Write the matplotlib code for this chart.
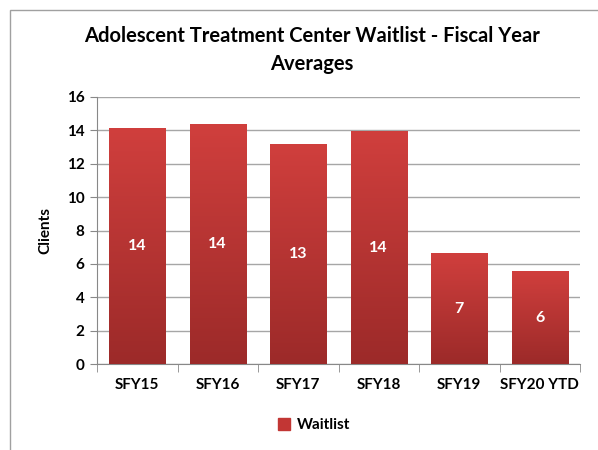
import matplotlib
matplotlib.use("Agg")
import matplotlib.pyplot as plt
import numpy as np
from matplotlib.patches import Rectangle
from matplotlib.colors import LinearSegmentedColormap

categories = ["SFY15", "SFY16", "SFY17", "SFY18", "SFY19", "SFY20 YTD"]
values = [14.14, 14.38, 13.18, 13.96, 6.65, 5.57]
labels = ["14", "14", "13", "14", "7", "6"]
series_name = "Waitlist"
title = "Adolescent Treatment Center Waitlist - Fiscal Year\nAverages"

plt.rcParams['font.family'] = ['Lato', 'DejaVu Sans']
plt.rcParams['font.weight'] = 'bold'

fig = plt.figure(figsize=(5.98, 4.5), dpi=100)
ax = fig.add_axes([97/598, 1-364/450, (580-97)/598, (364-97)/450])

x = np.arange(len(categories))
bars = ax.bar(x, values, width=0.7, color="#C23634", zorder=2, label=series_name)

cmap = LinearSegmentedColormap.from_list("g", ["#9C2A29", "#D03F3D"])
grad = np.linspace(0, 1, 256).reshape(-1, 1)
for b, lab in zip(bars, labels):
    bx, by, bw, bh = b.get_x(), b.get_y(), b.get_width(), b.get_height()
    im = ax.imshow(grad, extent=[bx, bx+bw, by, by+bh], origin="lower",
                   cmap=cmap, aspect="auto", zorder=3)
    im.set_clip_path(b)
    ax.text(bx+bw/2, by+bh/2, lab, ha="center", va="center",
            color="white", fontsize=11.5, fontweight="bold", zorder=4)

ax.set_xlim(-0.5, len(categories)-0.5)
ax.set_ylim(0, 16)
ax.set_yticks(range(0, 17, 2))
ax.set_xticks(x)
ax.set_xticklabels(categories, fontsize=11, fontweight="bold")
ax.tick_params(axis="x", length=0, pad=10)
ax.set_xticks(np.arange(-0.5, len(categories), 1), minor=True)
ax.tick_params(axis="x", which="minor", length=6, color="#888888", direction="out")
ax.tick_params(axis="y", labelsize=11, length=5, color="#888888", pad=4)
for t in ax.get_yticklabels():
    t.set_fontweight("bold")
ax.grid(axis="y", color="#A6A6A6", linewidth=1, zorder=0)
ax.set_axisbelow(True)
for s in ["top", "right"]:
    ax.spines[s].set_visible(False)
for s in ["left", "bottom"]:
    ax.spines[s].set_color("#888888")
ax.set_ylabel("Clients", fontsize=11, fontweight="bold", labelpad=10)

fig.text(312/598, 1-50/450, title, ha="center", va="center", fontsize=14.5,
         fontweight="bold", linespacing=1.45)

leg = fig.legend(handles=[bars[0]], labels=[series_name], loc="center",
                 bbox_to_anchor=(314/598, 1-425/450), frameon=False,
                 prop={"weight": "bold", "size": 11}, handlelength=0.8,
                 handleheight=0.8, handletextpad=0.4)
leg.legend_handles[0].set_color("#C23634")

fig.patches.append(Rectangle((10/598, -0.1), 1.0, 1.1-10/450, transform=fig.transFigure,
                             fill=False, edgecolor="#A0A0A0", linewidth=1))

fig.savefig("out.png", dpi=100)
